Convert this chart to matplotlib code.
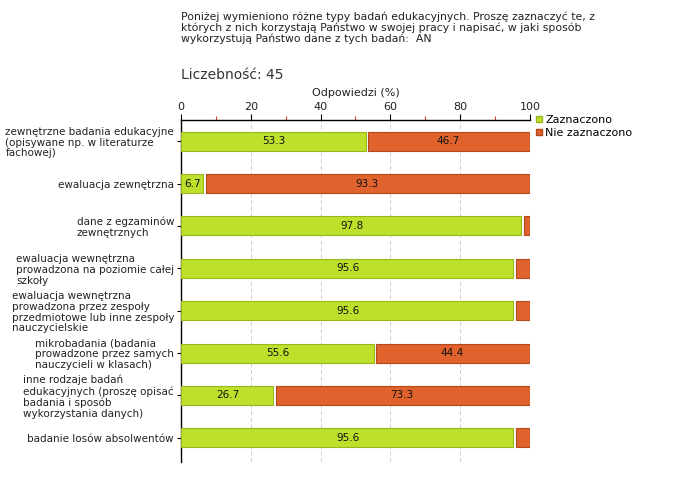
import matplotlib
matplotlib.use("Agg")
import matplotlib.pyplot as plt
import numpy as np

categories = [
    "zewnętrzne badania edukacyjne\n(opisywane np. w literaturze\nfachowej)",
    "ewaluacja zewnętrzna",
    "dane z egzaminów\nzewnętrznych",
    "ewaluacja wewnętrzna\nprowadzona na poziomie całej\nszkoły",
    "ewaluacja wewnętrzna\nprowadzona przez zespoły\nprzedmiotowe lub inne zespoły\nnauczycielskie",
    "mikrobadania (badania\nprowadzone przez samych\nnauczycieli w klasach)",
    "inne rodzaje badań\nedukacyjnych (proszę opisać\nbadania i sposób\nwykorzystania danych)",
    "badanie losów absolwentów",
]
zaznaczono = [53.3, 6.7, 97.8, 95.6, 95.6, 55.6, 26.7, 95.6]
nie_zaznaczono = [46.7, 93.3, 2.2, 4.4, 4.4, 44.4, 73.3, 4.4]
series_names = ["Zaznaczono", "Nie zaznaczono"]
xticks = [0, 20, 40, 60, 80, 100]

green = "#bde02b"
green_edge = "#98b81c"
orange = "#e0622d"
orange_edge = "#b5481c"

plt.rcParams['font.family'] = ['DejaVu Sans']
fig = plt.figure(figsize=(6.8, 4.8), dpi=100)
ax = fig.add_axes([181/680, 1-462/480, (530-181)/680, (462-120)/480])

y = np.arange(len(categories))
h = 0.45
gap = 0.8
for i in y:
    g = zaznaczono[i]
    o = nie_zaznaczono[i]
    ax.barh(i, g - gap/2 if o > 0 else g, left=0, height=h, color=green, edgecolor=green_edge, linewidth=0.8, zorder=3)
    ax.barh(i, o - gap/2, left=g + gap/2, height=h, color=orange, edgecolor=orange_edge, linewidth=0.8, zorder=3)
    if g >= 5:
        ax.text(g/2, i, f"{g:.1f}", ha='center', va='center', fontsize=7.5, color='#111111', zorder=4)
    if o >= 5:
        ax.text(g + o/2, i, f"{o:.1f}", ha='center', va='center', fontsize=7.5, color='#111111', zorder=4)

ax.set_xlim(0, 100)
ax.set_ylim(len(categories) - 1 + 0.57, -0.5)
ax.xaxis.tick_top()
ax.xaxis.set_label_position('top')
ax.set_xticks(xticks)
ax.set_xticklabels([str(t) for t in xticks], fontsize=8, color='#222222')
ax.set_xticks([10, 30, 50, 70, 90], minor=True)
ax.tick_params(axis='x', which='major', length=4, width=0.8, color='black', pad=2)
ax.tick_params(axis='x', which='minor', length=3, width=0.8, color='#d04040')
ax.set_xlabel("Odpowiedzi (%)", fontsize=8, color='#222222', labelpad=4)

ax.set_yticks(y)
ax.set_yticklabels(categories, fontsize=7.5, color='#222222', multialignment='left', linespacing=1.1)
ax.tick_params(axis='y', length=3, width=0.8, pad=2)

for s in ['right', 'bottom']:
    ax.spines[s].set_visible(False)
ax.spines['top'].set_linewidth(1.0)
ax.spines['left'].set_linewidth(1.0)

ax.grid(axis='x', which='major', color='#cccccc', linestyle=(0, (4, 3)), linewidth=0.7, zorder=0)

fig.text(181/680, 1-12/480, "Poniżej wymieniono różne typy badań edukacyjnych. Proszę zaznaczyć te, z\nktórych z nich korzystają Państwo w swojej pracy i napisać, w jaki sposób\nwykorzystują Państwo dane z tych badań:  AN",
         fontsize=7.8, color='#222222', va='top', ha='left', linespacing=1.05)
fig.text(181/680, 1-75/480, "Liczebność: 45", fontsize=10, color='#333333', va='center', ha='left')

from matplotlib.lines import Line2D
handles = [Line2D([], [], marker='s', linestyle='none', markersize=5, markerfacecolor=green, markeredgecolor=green_edge),
           Line2D([], [], marker='s', linestyle='none', markersize=5, markerfacecolor=orange, markeredgecolor=orange_edge)]
fig.legend(handles, series_names, loc='upper left', bbox_to_anchor=(533/680, 1-115/480), frameon=False,
           fontsize=8, handletextpad=0.1, borderaxespad=0, labelspacing=0.25, handlelength=1.0, borderpad=0)

fig.savefig("out.png", dpi=100)
